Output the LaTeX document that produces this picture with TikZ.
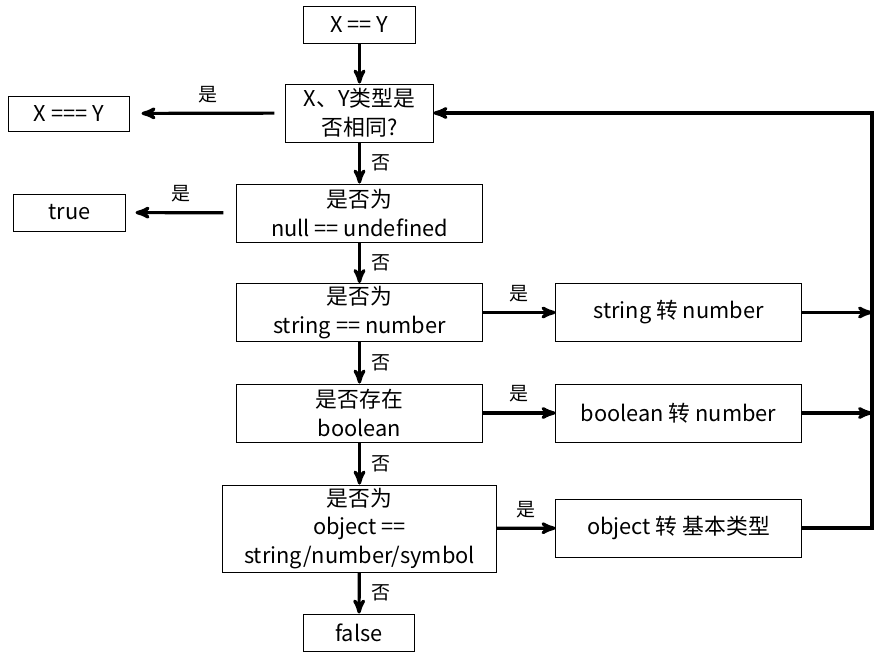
\documentclass[tikz,border=0pt]{standalone}
\usepackage{fontspec}
\setmainfont{Noto Sans CJK SC}
\usetikzlibrary{arrows}

\begin{document}
\begin{tikzpicture}[x=0.025cm,y=-0.025cm,>=stealth',line width=2.25pt,
	blk/.style={draw,line width=0.7pt,inner sep=0pt,align=center,font=\fontsize{15.5}{20.5}\selectfont},
	term/.style={blk,minimum width=2.775cm,minimum height=0.925cm},
	test/.style={blk,minimum width=6.125cm,minimum height=1.45cm},
	lbl/.style={font=\fontsize{13.5}{15}\selectfont}]
			\useasboundingbox (0,0) rectangle (882,658);
			\node[term] (start) at (359.5,24.5) {X == Y};
			\node[blk,minimum width=3.675cm,minimum height=1.45cm] (same) at (359.5,113) {X、Y类型是\\否相同?};
			\node[blk,minimum width=3cm,minimum height=0.875cm] (strict) at (69,113.5) {X === Y};
			\node[test] (nul) at (359.5,213) {是否为\\null == undefined};
			\node[term] (tru) at (69.5,212.5) {true};
			\node[test] (strnum) at (359.5,312.5) {是否为\\string == number};
			\node[test] (strconv) at (678.5,312.5) {string 转 number};
			\node[test] (bool) at (359.5,413) {是否存在\\boolean};
			\node[test] (boolconv) at (678.5,413) {boolean 转 number};
			\node[blk,minimum width=6.825cm,minimum height=2.175cm] (obj) at (359.5,528.5) {是否为\\object ==\\string/number/symbol};
			\node[test] (objconv) at (678.5,528) {object 转 基本类型};
			\node[term,minimum width=2.75cm] (fals) at (359,632.5) {false};
			\coordinate (back) at (872,528);
			\path[->]
				(start) edge (same)
				(same) edge [shorten <=0.28cm,shorten >=0.3cm] node[lbl,above=3pt] {是} (strict)
				(same) edge node[lbl,right=4pt] {否} (nul)
				(nul) edge [shorten <=0.33cm,shorten >=0.25cm] node[lbl,above=3pt] {是} (tru)
				(nul) edge node[lbl,right=4pt] {否} (strnum)
				(strnum) edge node[lbl,above=3pt] {是} (strconv)
				(strnum) edge node[lbl,right=4pt] {否} (bool)
				(bool) edge node[lbl,above=3pt] {是} (boolconv)
				(bool) edge node[lbl,right=4pt] {否} (obj)
				(obj) edge node[lbl,above=3pt] {是} (objconv)
				(obj) edge node[lbl,right=4pt] {否} (fals)
				(strconv.east) edge (strconv.east -| back)
				(boolconv.east) edge (boolconv.east -| back);
			\draw[->] (objconv.east) -- (back) |- (same.east);
		\end{tikzpicture}
\end{document}
